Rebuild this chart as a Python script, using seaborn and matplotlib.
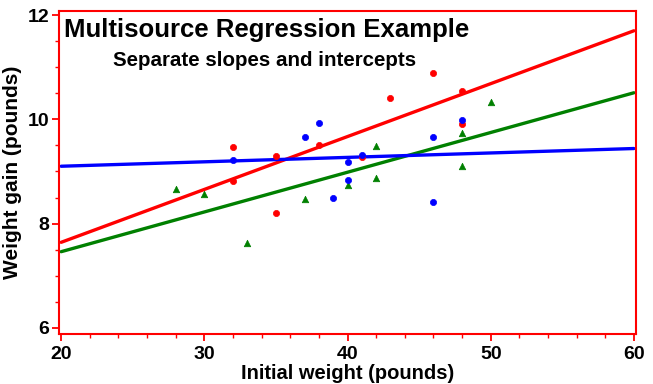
import matplotlib
matplotlib.use("Agg")
import matplotlib.pyplot as plt
from matplotlib.ticker import MultipleLocator
import seaborn as sns

# ---- data ----
red_x = [32, 32, 35, 35, 38, 41, 43, 46, 48, 48]
red_y = [9.47, 8.81, 9.30, 8.20, 9.51, 9.28, 10.41, 10.89, 10.54, 9.92]
blue_x = [32, 37, 38, 39, 40, 40, 41, 46, 46, 48]
blue_y = [9.22, 9.66, 9.93, 8.50, 9.19, 8.84, 9.32, 9.66, 8.42, 9.99]
green_x = [28, 30, 33, 37, 40, 42, 42, 48, 48, 50]
green_y = [8.67, 8.56, 7.62, 8.48, 8.74, 9.49, 8.88, 9.73, 9.10, 10.34]

fit_x = [20, 60]
red_fit = [7.64, 11.70]
green_fit = [7.46, 10.51]
blue_fit = [9.10, 9.44]

title = "Multisource Regression Example"
subtitle = "Separate slopes and intercepts"
xlabel = "Initial weight (pounds)"
ylabel = "Weight gain (pounds)"

sns.set_style("white")
plt.rcParams['font.family'] = ['Liberation Sans', 'DejaVu Sans']
plt.rcParams['font.weight'] = 'bold'
plt.rcParams['text.color'] = 'black'
plt.rcParams['axes.labelcolor'] = 'black'

fig = plt.figure(figsize=(6.53, 3.84), dpi=100)
ax = fig.add_axes([0.0904, 0.1302, 0.8836, 0.8412])

sns.lineplot(x=fit_x, y=red_fit, color="#ff0000", linewidth=2.4, ax=ax)
sns.lineplot(x=fit_x, y=green_fit, color="#008000", linewidth=2.4, ax=ax)
sns.lineplot(x=fit_x, y=blue_fit, color="#0000ff", linewidth=2.4, ax=ax)

sns.scatterplot(x=green_x, y=green_y, color="#008000", marker="^", s=22,
                edgecolor="#008000", linewidth=0.5, ax=ax, zorder=3)
sns.scatterplot(x=red_x, y=red_y, color="#ff0000", marker="o", s=20,
                edgecolor="#ff0000", linewidth=0.5, ax=ax, zorder=3)
sns.scatterplot(x=blue_x, y=blue_y, color="#0000ff", marker="o", s=20,
                edgecolor="#0000ff", linewidth=0.5, ax=ax, zorder=3)

ax.set_xlim(19.85, 60.15)
ax.set_ylim(5.88, 12.08)
ax.xaxis.set_major_locator(MultipleLocator(10))
ax.xaxis.set_minor_locator(MultipleLocator(2))
ax.yaxis.set_major_locator(MultipleLocator(2))
ax.yaxis.set_minor_locator(MultipleLocator(0.5))

for sp in ax.spines.values():
    sp.set_color("#ff0000")
    sp.set_linewidth(1.5)
    sp.set_visible(True)

ax.tick_params(axis='both', which='major', direction='out', length=5, width=1.3,
               color="#ff0000", labelcolor="black", labelsize=14)
ax.tick_params(axis='both', which='minor', direction='out', length=3, width=1.0,
               color="#ff0000")
ax.tick_params(axis='x', which='major', pad=3.5)
ax.tick_params(axis='y', which='major', pad=2)
ax.tick_params(bottom=True, left=True, which='both')
for lab in ax.get_xticklabels() + ax.get_yticklabels():
    lab.set_fontweight('bold')

ax.set_xlabel(xlabel, fontsize=14.5, fontweight='bold', labelpad=0.5)
ax.set_ylabel(ylabel, fontsize=15, fontweight='bold', labelpad=4)

fig.text(0.098, 1 - 37 / 384, title, fontsize=18.5, fontweight='bold',
         ha='left', va='baseline')
fig.text(0.173, 1 - 66 / 384, subtitle, fontsize=14.8, fontweight='bold',
         ha='left', va='baseline')

fig.savefig("out.png", dpi=100, facecolor="white")
